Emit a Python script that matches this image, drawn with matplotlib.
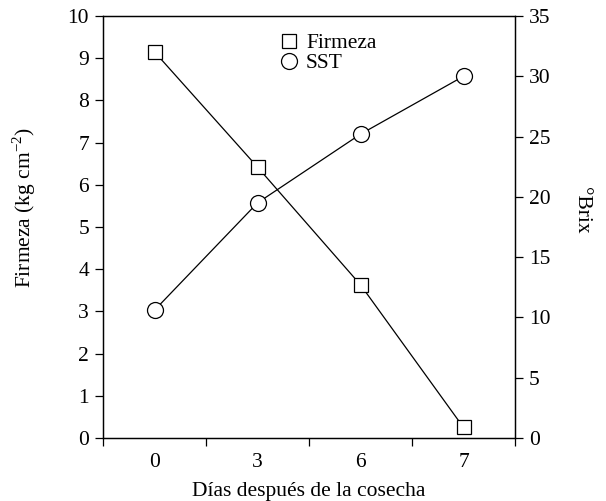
import matplotlib
matplotlib.use("Agg")
import matplotlib.pyplot as plt
from matplotlib.lines import Line2D

plt.rcParams['font.family'] = ['Liberation Serif', 'DejaVu Serif']
plt.rcParams['mathtext.fontset'] = 'custom'
plt.rcParams['mathtext.rm'] = 'Liberation Serif'

dias = ['0', '3', '6', '7']
firmeza = [9.15, 6.42, 3.63, 0.25]
sst = [10.6, 19.5, 25.2, 30.0]

FS = 15.5
SQ = 9.8
CI = 11.5
fig = plt.figure(figsize=(6.06, 5.01), dpi=100)
ax = fig.add_axes([103/606, 1-438/501, (515-103)/606, (438-16)/501])
x = list(range(len(dias)))
ax.plot(x, firmeza, color='black', lw=0.9, marker='s', ms=SQ, mfc='white', mec='black', mew=0.9, zorder=3)
ax.set_xlim(-0.5, 3.5)
ax.set_ylim(0, 10)
ax.set_yticks(range(0, 11))
ax.set_xticks(x)
ax.set_xticklabels(dias)
ax.set_xticks([-0.5, 0.5, 1.5, 2.5, 3.5], minor=True)
ax.tick_params(axis='x', which='major', length=0, pad=11, labelsize=FS)
ax.tick_params(axis='x', which='minor', length=6, direction='out', width=0.9)
ax.tick_params(axis='y', length=6, direction='out', width=0.9, labelsize=FS, pad=4)
ax.set_xlabel('Días después de la cosecha', fontsize=FS, labelpad=7)
ax.set_ylabel('Firmeza (kg cm$^{-2}$)', fontsize=FS)
ax.yaxis.set_label_coords(-0.158, 0.547)
for s in ax.spines.values():
    s.set_linewidth(0.9)

ax2 = ax.twinx()
ax2.plot(x, sst, color='black', lw=0.9, marker='o', ms=CI, mfc='white', mec='black', mew=0.9, zorder=3)
ax2.set_ylim(0, 35)
ax2.set_yticks(range(0, 36, 5))
ax2.tick_params(axis='y', length=6, direction='out', width=0.9, labelsize=FS, pad=4)
ax2.set_ylabel('°Brix', fontsize=FS, rotation=270)
ax2.yaxis.set_label_coords(1.185, 0.540)
for s in ax2.spines.values():
    s.set_linewidth(0.9)

handles = [Line2D([], [], ls='none', marker='s', ms=SQ, mfc='white', mec='black', mew=0.9),
           Line2D([], [], ls='none', marker='o', ms=CI, mfc='white', mec='black', mew=0.9)]
ax.legend(handles, ['Firmeza', 'SST'], loc='upper left', bbox_to_anchor=(0.378, 1.0),
          frameon=False, fontsize=FS, handletextpad=0.2, labelspacing=0.0, borderaxespad=0.4,
          handlelength=1.2)

fig.savefig('out.png', dpi=100)
